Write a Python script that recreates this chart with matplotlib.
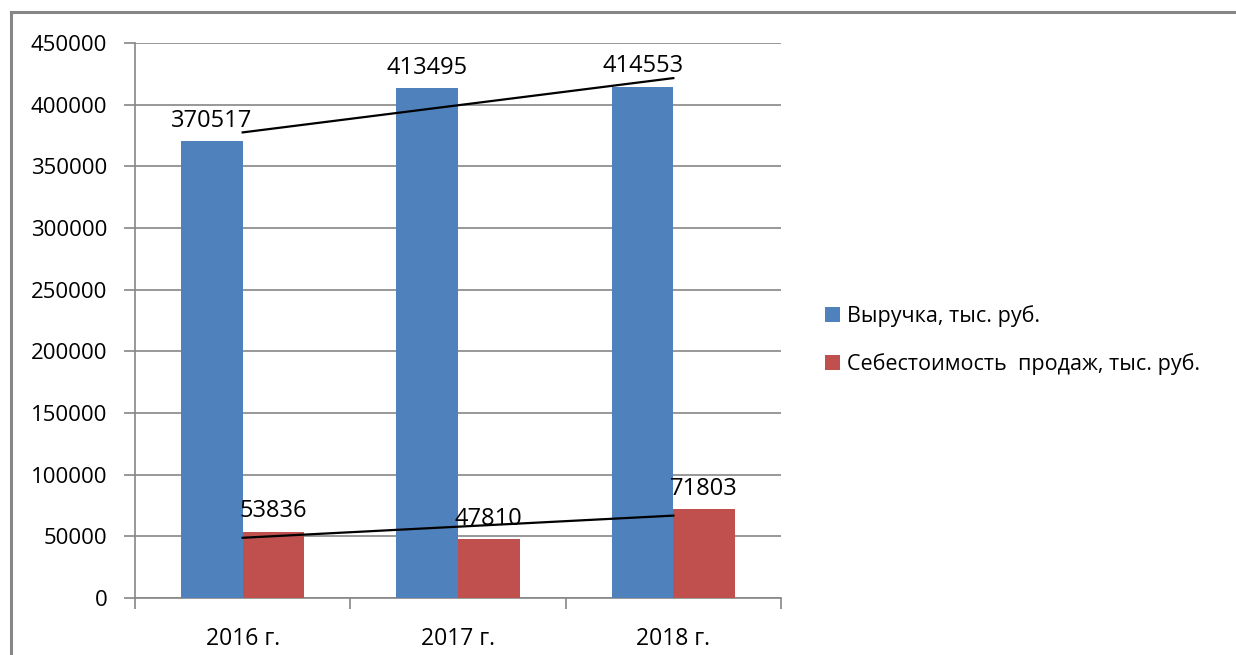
import matplotlib
matplotlib.use("Agg")
import matplotlib.pyplot as plt
from matplotlib.lines import Line2D
import numpy as np

years = ["2016 г.", "2017 г.", "2018 г."]
revenue = [370517, 413495, 414553]
cost = [53836, 47810, 71803]
series_names = ["Выручка, тыс. руб.", "Себестоимость  продаж, тыс. руб."]

blue = "#4F81BD"
red = "#C0504D"
grey = "#868686"

plt.rcParams['font.family'] = ['Open Sans', 'DejaVu Sans']
plt.rcParams['font.size'] = 16

fig = plt.figure(figsize=(12.36, 6.55), dpi=100)
ax = fig.add_axes([135 / 1236, 57 / 655, 646 / 1236, 555 / 655])

x = np.arange(1, len(years) + 1)
w = 1 / 3.5
b1 = ax.bar(x - w / 2, revenue, w, color=blue, label=series_names[0], zorder=3)
b2 = ax.bar(x + w / 2, cost, w, color=red, label=series_names[1], zorder=3)

# data labels above bars
for bars, vals in ((b1, revenue), (b2, cost)):
    for r, v in zip(bars, vals):
        ax.annotate(str(v), (r.get_x() + r.get_width() / 2, v),
                    xytext=(0, 6), textcoords="offset points",
                    ha="center", va="bottom", fontsize=17, zorder=4)

# linear trendlines, as Excel draws them
for vals in (revenue, cost):
    k, c = np.polyfit(x, vals, 1)
    ax.plot(x[[0, -1]], k * x[[0, -1]] + c, color="black", lw=1.6, zorder=5)

ax.set_xlim(0.5, 3.5)
ax.set_ylim(0, 450000)
ax.set_yticks(np.arange(0, 450001, 50000))
ax.yaxis.grid(True, color=grey, lw=1.2, zorder=0)
ax.set_xticks([0.5, 1.5, 2.5, 3.5])
ax.set_xticklabels([])
ax.set_xticks(x, minor=True)
ax.set_xticklabels(years, minor=True, fontsize=16.5)
ax.tick_params(axis="x", which="minor", length=0, pad=21)
ax.tick_params(axis="x", which="major", length=8, color=grey, width=1.2)
ax.tick_params(axis="y", length=8, color=grey, width=1.2, pad=12)
for s in ("top", "right"):
    ax.spines[s].set_visible(False)
for s in ("left", "bottom"):
    ax.spines[s].set_color(grey)
    ax.spines[s].set_linewidth(1.2)

ax.legend(loc="center left", bbox_to_anchor=(806 / 1236, 1 - 340 / 655),
          bbox_transform=fig.transFigure, frameon=False,
          handlelength=0.7, handleheight=0.7, handletextpad=0.3,
          labelspacing=1.2, fontsize=15.5)

# chart area border (only top and left visible in the crop)
fig.add_artist(Line2D([11 / 1236, 11 / 1236], [0, 1 - 12 / 655], color=grey, lw=2.2))
fig.add_artist(Line2D([11 / 1236, 1], [1 - 12 / 655, 1 - 12 / 655], color=grey, lw=2.2))

fig.savefig("out.png", dpi=100)
